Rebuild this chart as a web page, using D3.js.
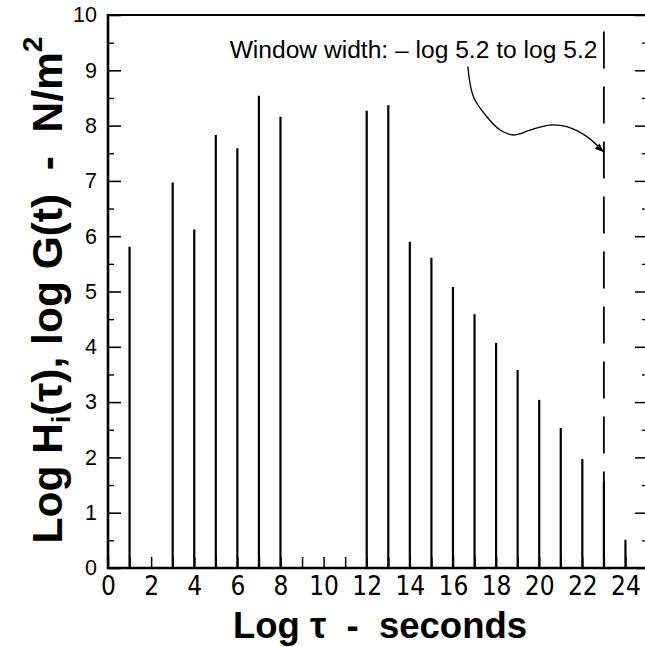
<!DOCTYPE html>
<html><head><meta charset="utf-8">
<script src="https://cdn.jsdelivr.net/npm/d3@7"></script>
<style>
html,body{margin:0;padding:0;background:#fff;overflow:hidden}
svg{display:block}
text{white-space:pre}
</style></head>
<body>
<svg id="chart" width="645" height="647"></svg>
<script>
// ---- data ----
const logTau   = [1, 3, 4, 5, 6, 7, 8, 12, 13, 14, 15, 16, 17, 18, 19, 20, 21, 22, 23, 24];
const logH     = [5.81, 6.97, 6.12, 7.83, 7.59, 8.54, 8.16, 8.27, 8.37, 5.90, 5.61, 5.08, 4.59, 4.07, 3.58, 3.04, 2.53, 1.97, 1.57, 0.51];
const xTickLabels = [0, 2, 4, 6, 8, 10, 12, 14, 16, 18, 20, 22, 24];
const yTickLabels = [0, 1, 2, 3, 4, 5, 6, 7, 8, 9, 10];
const windowEdge = 23;          // log 5.2 window edge (dashed line)
const windowTop = 9.7;
const annotationText = "Window width: \u2013 log 5.2 to log 5.2";
const annotationAnchor = [22.7, 9.22];
const arrowPath = [[16.69, 9.07], [16.95, 8.52], [17.57, 8.16], [18.19, 7.92], [18.81, 7.83],
                   [19.58, 7.92], [20.51, 8.01], [21.28, 7.98], [22.21, 7.80], [23.0, 7.52]];

// ---- scales ----
const svg = d3.select("#chart");
const x = d3.scaleLinear().domain([0, 25]).range([108, 647]);
const y = d3.scaleLinear().domain([0, 10]).range([568, 15]);

// frame
const g = svg.append("g");
g.append("line").attr("x1", x(0)).attr("x2", x(0)).attr("y1", y(0) + 1).attr("y2", y(10) - 1)
  .attr("stroke", "#000").attr("stroke-width", 2.6);
g.append("line").attr("x1", x(0) - 1).attr("x2", x(25)).attr("y1", y(0)).attr("y2", y(0))
  .attr("stroke", "#000").attr("stroke-width", 2.6);
g.append("line").attr("x1", x(0) - 1).attr("x2", x(25)).attr("y1", y(10)).attr("y2", y(10))
  .attr("stroke", "#000").attr("stroke-width", 2.2);
g.append("line").attr("x1", x(25)).attr("x2", x(25)).attr("y1", y(0)).attr("y2", y(10))
  .attr("stroke", "#000").attr("stroke-width", 2.2);

// x axis (ticks inward every unit, labels at even values)
const xAxis = d3.axisBottom(x).tickValues(d3.range(0, 25)).tickSize(-11).tickFormat("");
const gx = svg.append("g").attr("transform", `translate(0,${y(0)})`).call(xAxis);
gx.select(".domain").remove();
gx.selectAll(".tick line").attr("stroke", "#000").attr("stroke-width", 1.5);
const xLab = d3.axisBottom(x).tickValues(xTickLabels).tickSize(0).tickPadding(9).tickFormat(d3.format("d"));
const gxl = svg.append("g").attr("transform", `translate(0,${y(0)})`).call(xLab);
gxl.select(".domain").remove();
gxl.selectAll(".tick text").attr("font-family", "'Liberation Sans Narrow','DejaVu Sans Condensed',Arial,sans-serif")
  .attr("font-size", 26).attr("fill", "#000");

// y axis left: major + minor inward
const yMinor = d3.axisRight(y).tickValues(d3.range(0.5, 10, 1)).tickSize(6).tickFormat("");
const gym = svg.append("g").attr("transform", `translate(${x(0)},0)`).call(yMinor);
gym.select(".domain").remove();
gym.selectAll(".tick line").attr("stroke", "#000").attr("stroke-width", 1.4);
const yMajor = d3.axisRight(y).tickValues(yTickLabels).tickSize(13).tickFormat("");
const gyM = svg.append("g").attr("transform", `translate(${x(0)},0)`).call(yMajor);
gyM.select(".domain").remove();
gyM.selectAll(".tick line").attr("stroke", "#000").attr("stroke-width", 1.6);
const yLab = d3.axisLeft(y).tickValues(yTickLabels).tickSize(0).tickPadding(11).tickFormat(d3.format("d"));
const gyl = svg.append("g").attr("transform", `translate(${x(0)},0)`).call(yLab);
gyl.select(".domain").remove();
gyl.selectAll(".tick text").attr("font-family", "Arial,'Liberation Sans',sans-serif")
  .attr("font-size", 21.5).attr("fill", "#000");

// y axis right: inward ticks
const yRMinor = d3.axisLeft(y).tickValues(d3.range(0.5, 10, 1)).tickSize(5).tickFormat("");
const gyrm = svg.append("g").attr("transform", `translate(${x(25)},0)`).call(yRMinor);
gyrm.select(".domain").remove();
gyrm.selectAll(".tick line").attr("stroke", "#000").attr("stroke-width", 1.3);
const yRMajor = d3.axisLeft(y).tickValues(yTickLabels).tickSize(12).tickFormat("");
const gyrM = svg.append("g").attr("transform", `translate(${x(25)},0)`).call(yRMajor);
gyrM.select(".domain").remove();
gyrM.selectAll(".tick line").attr("stroke", "#000").attr("stroke-width", 1.5);

// spectral lines
svg.append("g").selectAll("line.bar").data(logTau).join("line").attr("class", "bar")
  .attr("x1", d => x(d)).attr("x2", d => x(d))
  .attr("y1", y(0)).attr("y2", (d, i) => y(logH[i]))
  .attr("stroke", "#000").attr("stroke-width", 2.2);

// window edge dashed line
svg.append("line").attr("x1", x(windowEdge)).attr("x2", x(windowEdge))
  .attr("y1", y(windowTop)).attr("y2", y(logH[logTau.indexOf(windowEdge)]))
  .attr("stroke", "#000").attr("stroke-width", 1.8).attr("stroke-dasharray", "37,18");

// annotation
svg.append("text").attr("x", x(annotationAnchor[0])).attr("y", y(annotationAnchor[1]))
  .attr("text-anchor", "end").attr("font-family", "Arial,'Liberation Sans',sans-serif")
  .attr("font-size", 24.6).attr("fill", "#000").text(annotationText);

const line = d3.line().x(d => x(d[0])).y(d => y(d[1])).curve(d3.curveCatmullRom);
svg.append("path").attr("d", line(arrowPath)).attr("fill", "none").attr("stroke", "#000").attr("stroke-width", 1.3);
// arrowhead
const pEnd = arrowPath[arrowPath.length - 1], pPrev = arrowPath[arrowPath.length - 2];
const ex = x(pEnd[0]), ey = y(pEnd[1]);
const ang = Math.atan2(ey - y(pPrev[1]), ex - x(pPrev[0]));
const hl = 9, hw = 3.5;
const hx = ex - hl * Math.cos(ang), hy = ey - hl * Math.sin(ang);
svg.append("path").attr("d", `M${ex},${ey}L${hx + hw * Math.sin(ang)},${hy - hw * Math.cos(ang)}L${hx - hw * Math.sin(ang)},${hy + hw * Math.cos(ang)}Z`)
  .attr("fill", "#000");

// axis titles
svg.append("text").attr("x", 380).attr("y", 638).attr("text-anchor", "middle")
  .attr("font-family", "Arial,'Liberation Sans',sans-serif").attr("font-weight", "bold")
  .attr("font-size", 36.5).attr("fill", "#000").text("Log \u03c4  -  seconds");

const yt = svg.append("text").attr("transform", "translate(62,290) rotate(-90)").attr("text-anchor", "middle")
  .attr("font-family", "Arial,'Liberation Sans',sans-serif").attr("font-weight", "bold")
  .attr("font-size", 42.5).attr("fill", "#000");
yt.append("tspan").text("Log H");
yt.append("tspan").attr("font-size", 26).attr("dy", 8).text("i");
yt.append("tspan").attr("dy", -8).text("(\u03c4), log G(t)  -  N/m");
yt.append("tspan").attr("font-size", 28).attr("dy", -20).text("2");
</script>
</body></html>
